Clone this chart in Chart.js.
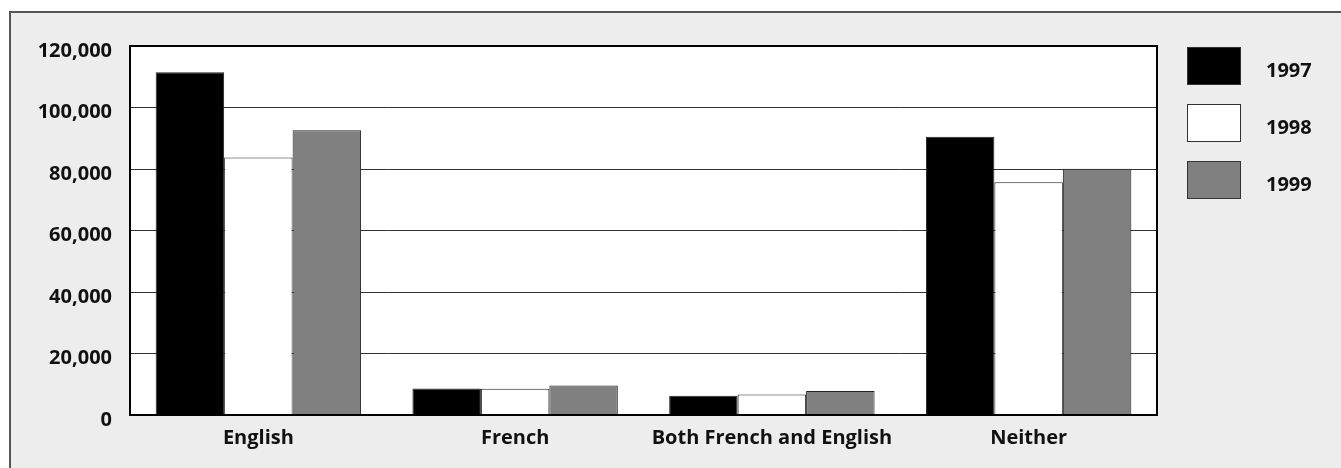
<!DOCTYPE html>
<html lang="en">
<head>
    <meta charset="UTF-8">
    <title>Language groups 1997-1999</title>
    <script src="https://cdn.jsdelivr.net/npm/chart.js@4.4.1/dist/chart.umd.min.js"></script>
    <style>
        body {
            margin: 0;
            background-color: #ffffff;
            overflow: hidden;
        }
        .frame {
            position: absolute;
            left: 9px;
            top: 11px;
            width: 1400px;
            height: 500px;
            background-color: #ededed;
            border-top: 2px solid #555;
            border-left: 2px solid #555;
        }
        .chart-box {
            position: absolute;
            left: 0;
            top: 0;
            width: 1341px;
            height: 468px;
        }
    </style>
</head>
<body>
    <div class="frame"></div>
    <div class="chart-box">
        <canvas id="langChart"></canvas>
    </div>
    <script>
        const categories = ['English', 'French', 'Both French and English', 'Neither'];
        const years = ['1997', '1998', '1999'];
        const values1997 = [111500, 8600, 6300, 90500];
        const values1998 = [83700, 8500, 6700, 75700];
        const values1999 = [92600, 9600, 7800, 80100];
        const barColors = ['#000000', '#ffffff', '#808080'];

        const FONT = "'Open Sans', 'DejaVu Sans', sans-serif";

        // white plot area, then a frame round it (top and right edges)
        const plotFrame = {
            id: 'plotFrame',
            beforeDraw(chart) {
                const a = chart.chartArea;
                const c = chart.ctx;
                c.save();
                c.fillStyle = '#fff';
                c.fillRect(a.left, a.top, a.right - a.left, a.bottom - a.top);
                c.restore();
            },
            afterDraw(chart) {
                const a = chart.chartArea;
                const c = chart.ctx;
                c.save();
                c.strokeStyle = '#000';
                c.lineWidth = 2;
                c.strokeRect(a.left, a.top, a.right - a.left, a.bottom - a.top);
                c.restore();
            }
        };

        // legend on the right with big boxes
        const sideLegend = {
            id: 'sideLegend',
            afterDraw(chart) {
                const c = chart.ctx;
                c.save();
                c.font = 'bold 20px ' + FONT;
                c.textBaseline = 'middle';
                chart.data.datasets.forEach((ds, i) => {
                    const y = 47 + i * 57;
                    c.fillStyle = ds.backgroundColor;
                    c.fillRect(1187, y, 54, 38);
                    c.strokeStyle = '#333';
                    c.lineWidth = 1;
                    c.strokeRect(1187.5, y + 0.5, 53, 37);
                    c.fillStyle = '#111';
                    c.fillText(ds.label, 1266, y + 24);
                });
                c.restore();
            }
        };

        const ctx = document.getElementById('langChart').getContext('2d');
        new Chart(ctx, {
            type: 'bar',
            data: {
                labels: categories,
                datasets: [
                    { label: years[0], data: values1997, backgroundColor: barColors[0] },
                    { label: years[1], data: values1998, backgroundColor: barColors[1] },
                    { label: years[2], data: values1999, backgroundColor: barColors[2] }
                ]
            },
            options: {
                responsive: true,
                maintainAspectRatio: false,
                animation: false,
                layout: {
                    padding: { left: 0, top: 46, right: 184, bottom: 0 }
                },
                datasets: {
                    bar: {
                        borderColor: '#222',
                        borderWidth: 1,
                        categoryPercentage: 0.8,
                        barPercentage: 1.0
                    }
                },
                plugins: {
                    legend: { display: false },
                    tooltip: { enabled: false }
                },
                scales: {
                    x: {
                        grid: { display: false, drawTicks: false },
                        border: { color: '#000', width: 2 },
                        ticks: {
                            color: '#111',
                            font: { family: FONT, size: 20, weight: 'bold' },
                            padding: 11,
                            maxRotation: 0,
                            autoSkip: false
                        },
                        afterFit(scale) { scale.height = 53; }
                    },
                    y: {
                        min: 0,
                        max: 120000,
                        grid: { color: '#333', lineWidth: 1, drawTicks: false },
                        border: { color: '#000', width: 2 },
                        ticks: {
                            stepSize: 20000,
                            color: '#111',
                            font: { family: FONT, size: 20, weight: 'bold' },
                            padding: 18,
                            labelOffset: 5,
                            callback: v => v.toLocaleString('en-US')
                        },
                        afterFit(scale) { scale.width = 130; }
                    }
                }
            },
            plugins: [plotFrame, sideLegend]
        });
    </script>
</body>
</html>
